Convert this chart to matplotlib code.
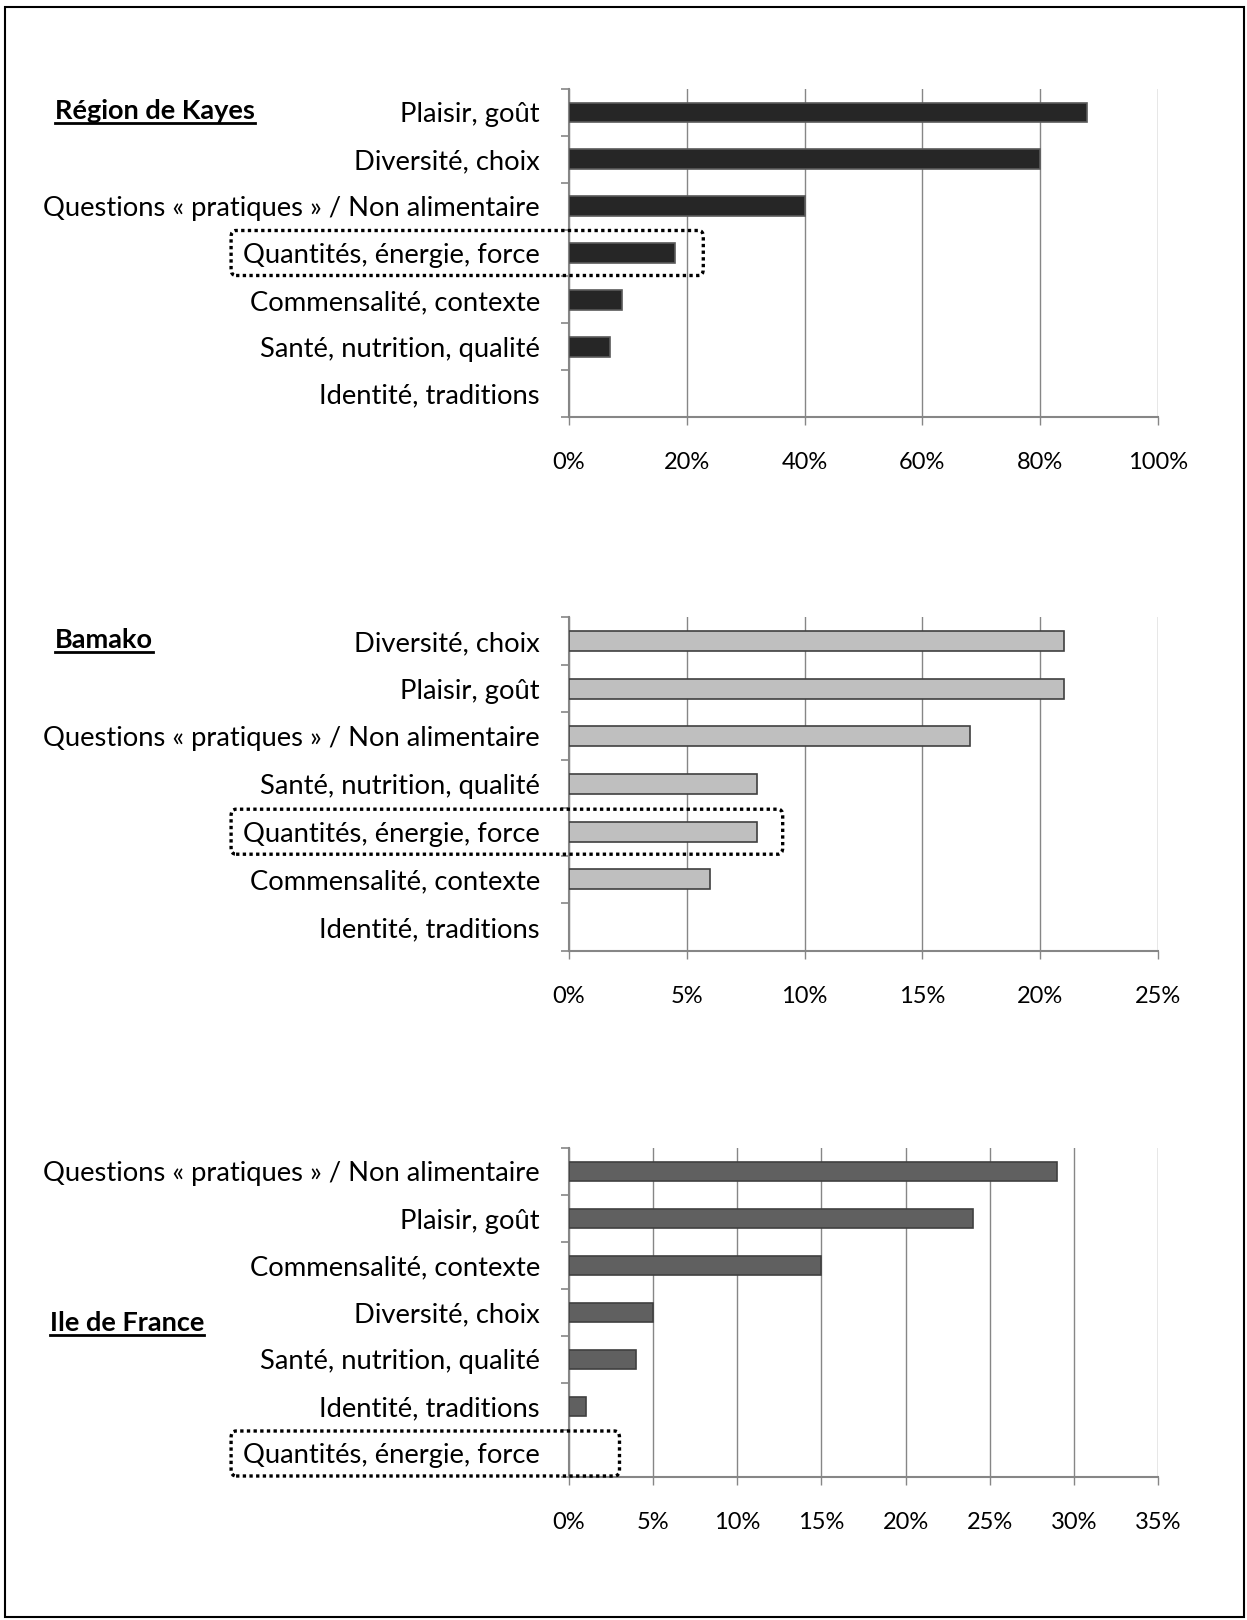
import matplotlib
matplotlib.use("Agg")
import matplotlib.pyplot as plt
from matplotlib.patches import FancyBboxPatch, Rectangle
from matplotlib.lines import Line2D
from matplotlib.ticker import FixedLocator, MultipleLocator, FuncFormatter

plt.rcParams['font.family'] = ['Lato', 'DejaVu Sans']

# --- data (percent of answers), top to bottom as in the figure ---
kayes_labels = ["Plaisir, goût", "Diversité, choix",
                "Questions « pratiques » / Non alimentaire",
                "Quantités, énergie, force", "Commensalité, contexte",
                "Santé, nutrition, qualité", "Identité, traditions"]
kayes_values = [88, 80, 40, 18, 9, 7, 0]

bamako_labels = ["Diversité, choix", "Plaisir, goût",
                 "Questions « pratiques » / Non alimentaire",
                 "Santé, nutrition, qualité", "Quantités, énergie, force",
                 "Commensalité, contexte", "Identité, traditions"]
bamako_values = [21, 21, 17, 8, 8, 6, 0]

idf_labels = ["Questions « pratiques » / Non alimentaire", "Plaisir, goût",
              "Commensalité, contexte", "Diversité, choix",
              "Santé, nutrition, qualité", "Identité, traditions",
              "Quantités, énergie, force"]
idf_values = [29, 24, 15, 5, 4, 1, 0]

titles = ["Région de Kayes", "Bamako", "Ile de France"]
xmax = [100, 25, 35]
xstep = [20, 5, 5]
box_right = [22.8, 9.07, 3.0]   # where the dotted frame ends, in data units
highlight = "Quantités, énergie, force"

W, H = 1247, 1620
fig = plt.figure(figsize=(W / 100, H / 100), dpi=100)

GRAY = "#868686"
panels = [
    (kayes_labels, kayes_values, "#262626", "#5a5a5a", 89, 417),
    (bamako_labels, bamako_values, "#bfbfbf", "#404040", 617, 951),
    (idf_labels, idf_values, "#606060", "#404040", 1148, 1477),
]
title_pos = [(55, 119), (55, 648), (50, 1331)]

axes = []
for i, (labels, values, fc, ec, top, bot) in enumerate(panels):
    ax = fig.add_axes([569 / W, 1 - bot / H, (1158 - 569) / W, (bot - top) / H])
    n = len(labels)
    lws = [1.2 if v > 0 else 0 for v in values]
    ax.barh(range(n), values, height=0.42, color=fc, edgecolor=ec, linewidth=lws, zorder=3)
    ax.set_ylim(n - 0.5, -0.5)
    ax.set_xlim(0, xmax[i])
    ax.set_yticks(range(n))
    ax.set_yticklabels(labels, fontsize=19.75)
    ax.yaxis.set_minor_locator(FixedLocator([k - 0.5 for k in range(n + 1)]))
    ax.xaxis.set_major_locator(MultipleLocator(xstep[i]))
    ax.xaxis.set_major_formatter(FuncFormatter(lambda v, p: f"{v:.0f}%"))
    ax.tick_params(axis='y', which='major', length=0, pad=21)
    ax.tick_params(axis='y', which='minor', length=6, width=1.2, color=GRAY)
    ax.tick_params(axis='x', which='major', length=6, width=1, color=GRAY,
                   labelsize=17, pad=19)
    ax.grid(axis='x', color=GRAY, linewidth=1.0, zorder=0)
    ax.set_axisbelow(True)
    for s in ('top', 'right'):
        ax.spines[s].set_visible(False)
    for s in ('left', 'bottom'):
        ax.spines[s].set_color(GRAY)
        ax.spines[s].set_linewidth(1.5)
    axes.append(ax)

# panel titles, bold and underlined
title_texts = []
for t, (x, y) in zip(titles, title_pos):
    title_texts.append(fig.text(x / W, 1 - y / H, t, fontsize=19.5, fontweight='bold',
                                ha='left', va='baseline'))

fig.canvas.draw()
inv = fig.transFigure.inverted()

for txt in title_texts:
    bb = txt.get_window_extent()
    y = bb.y0
    (x0, yy), (x1, _) = inv.transform([(bb.x0, y), (bb.x1, y)])
    fig.add_artist(Line2D([x0, x1], [yy, yy], color='black', linewidth=2))

# dotted rounded frame around the "Quantités" row
for ax, labels, xr in zip(axes, [kayes_labels, bamako_labels, idf_labels], box_right):
    k = labels.index(highlight)
    lb = ax.get_yticklabels()[k].get_window_extent()
    xl = lb.x0 - 12
    xr_px, yc = ax.transData.transform((xr, k))
    h = 45
    (fx0, fy0), (fx1, fy1) = inv.transform([(xl, yc - h / 2), (xr_px, yc + h / 2)])
    fig.add_artist(FancyBboxPatch((fx0, fy0), fx1 - fx0, fy1 - fy0,
                                  boxstyle="round,pad=0,rounding_size=0.004",
                                  fill=False, edgecolor='black', linewidth=2.4,
                                  linestyle=(0, (1, 1.0)), zorder=10))

# outer frame
fig.add_artist(Rectangle((5 / W, 3 / H), (1244 - 5) / W, (1613 - 3) / H,
                         transform=fig.transFigure, fill=False,
                         edgecolor='black', linewidth=1.5))

fig.savefig("out.png", dpi=100)
